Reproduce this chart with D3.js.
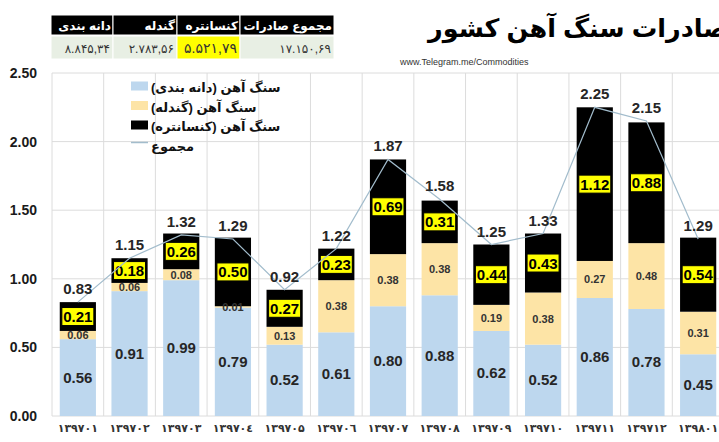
<!DOCTYPE html>
<html>
<head>
<meta charset="utf-8">
<script src="https://cdn.jsdelivr.net/npm/d3@7"></script>
<style>
  body { margin: 0; background: #fff; }
  svg { display: block; font-family: "Liberation Sans", "DejaVu Sans", sans-serif; }
</style>
</head>
<body>
<div id="chart"></div>
<script>
// Months (Persian calendar) and monthly exports per product
const months = ["۱۳۹۷۰۱", "۱۳۹۷۰۲", "۱۳۹۷۰۳", "۱۳۹۷۰٤", "۱۳۹۷۰۵", "۱۳۹۷۰٦", "۱۳۹۷۰۷",
                "۱۳۹۷۰۸", "۱۳۹۷۰۹", "۱۳۹۷۱۰", "۱۳۹۷۱۱", "۱۳۹۷۱۲", "۱۳۹۸۰۱"];
const daneBandi  = [0.56, 0.91, 0.99, 0.79, 0.52, 0.61, 0.80, 0.88, 0.62, 0.52, 0.86, 0.78, 0.45];
const gandaleh   = [0.06, 0.06, 0.08, 0.01, 0.13, 0.38, 0.38, 0.38, 0.19, 0.38, 0.27, 0.48, 0.31];
const konsantreh = [0.21, 0.18, 0.26, 0.50, 0.27, 0.23, 0.69, 0.31, 0.44, 0.43, 1.12, 0.88, 0.54];
const totals     = [0.83, 1.15, 1.32, 1.29, 0.92, 1.22, 1.87, 1.58, 1.25, 1.33, 2.25, 2.15, 1.29];
const yTicks = [0, 0.5, 1, 1.5, 2, 2.5];

const legendNames = ["سنگ آهن (دانه بندی)", "سنگ آهن (گندله)", "سنگ آهن (کنسانتره)", "مجموع"];
const tableHeaders = ["دانه بندی", "گندله", "کنسانتره", "مجموع صادرات"];
const tableValues = ["۸.۸۴۵,۳۴", "۲.۷۸۳,۵۶", "۵.۵۲۱,۷۹", "۱۷.۱۵۰,۶۹"];

const title = "صادرات سنگ آهن کشور";
const source = "www.Telegram.me/Commodities";

const width = 719, height = 442;
const plot = { left: 52, right: 724, top: 73, bottom: 416 };
const colors = { dane: "#bdd7ee", gandaleh: "#fde4a6", konsantreh: "#000000", line: "#a2bccc" };
const RLM = "\u200F";

const svg = d3.select("#chart")
    .append("svg")
    .attr("width", width)
    .attr("height", height);

const x = d3.scaleBand()
    .domain(months)
    .range([plot.left, plot.right])
    .paddingInner(0.3)
    .paddingOuter(0.15);

const y = d3.scaleLinear()
    .domain([0, 2.5])
    .range([plot.bottom, plot.top]);

// Gridlines
svg.selectAll(".hgrid")
    .data(yTicks)
    .enter()
    .append("line")
    .attr("x1", plot.left)
    .attr("x2", plot.right)
    .attr("y1", d => y(d))
    .attr("y2", d => y(d))
    .attr("stroke", "#dcdcdc");

svg.selectAll(".vgrid")
    .data(d3.range(months.length + 1))
    .enter()
    .append("line")
    .attr("x1", i => plot.left + i * x.step())
    .attr("x2", i => plot.left + i * x.step())
    .attr("y1", plot.top)
    .attr("y2", plot.bottom)
    .attr("stroke", "#dcdcdc");

// Y labels
svg.selectAll(".ylab")
    .data(yTicks)
    .enter()
    .append("text")
    .attr("x", 37)
    .attr("y", d => y(d) + 5)
    .attr("text-anchor", "end")
    .attr("font-size", 14)
    .attr("font-weight", "bold")
    .attr("fill", "#1a1a1a")
    .text(d => d3.format(".2f")(d));

// X labels
svg.selectAll(".xlab")
    .data(months)
    .enter()
    .append("text")
    .attr("x", d => x(d) + x.bandwidth() / 2)
    .attr("y", 432)
    .attr("text-anchor", "middle")
    .attr("font-size", 11)
    .attr("font-weight", "bold")
    .attr("fill", "#333")
    .text(d => d);

// Stacked bars
const rows = months.map((m, i) => ({ month: m, dane: daneBandi[i], gandaleh: gandaleh[i], konsantreh: konsantreh[i] }));
const keys = ["dane", "gandaleh", "konsantreh"];
const layers = d3.stack().keys(keys)(rows);

const layerG = svg.selectAll(".layer")
    .data(layers)
    .enter()
    .append("g")
    .attr("class", "layer")
    .attr("fill", d => colors[d.key]);

layerG.selectAll("rect")
    .data(d => d)
    .enter()
    .append("rect")
    .attr("x", d => x(d.data.month))
    .attr("width", x.bandwidth())
    .attr("y", d => y(d[1]))
    .attr("height", d => y(d[0]) - y(d[1]));

// Segment labels: blue
svg.selectAll(".lab-dane")
    .data(layers[0])
    .enter()
    .append("text")
    .attr("x", d => x(d.data.month) + x.bandwidth() / 2)
    .attr("y", d => (y(d[0]) + y(d[1])) / 2 + 5)
    .attr("text-anchor", "middle")
    .attr("font-size", 15)
    .attr("font-weight", "bold")
    .attr("fill", "#262626")
    .text(d => d3.format(".2f")(d.data.dane));

// Segment labels: yellow
svg.selectAll(".lab-gandaleh")
    .data(layers[1])
    .enter()
    .append("text")
    .attr("x", d => x(d.data.month) + x.bandwidth() / 2)
    .attr("y", d => (y(d[0]) + y(d[1])) / 2 + 4)
    .attr("text-anchor", "middle")
    .attr("font-size", 11)
    .attr("font-weight", "bold")
    .attr("fill", "#333")
    .text(d => d3.format(".2f")(d.data.gandaleh));

// Segment labels: black segment, yellow boxes
const konLabels = svg.selectAll(".lab-kon")
    .data(layers[2])
    .enter()
    .append("g")
    .attr("transform", d => `translate(${x(d.data.month) + x.bandwidth() / 2},${(y(d[0]) + y(d[1])) / 2})`);

konLabels.append("rect")
    .attr("x", -16)
    .attr("y", -9)
    .attr("width", 32)
    .attr("height", 18)
    .attr("fill", "#ffff00")
    .attr("stroke", "#000")
    .attr("stroke-width", 1);

konLabels.append("text")
    .attr("y", 5.5)
    .attr("text-anchor", "middle")
    .attr("font-size", 15)
    .attr("font-weight", "bold")
    .attr("fill", "#000")
    .text(d => d3.format(".2f")(d.data.konsantreh));

// Total line
const line = d3.line()
    .x((d, i) => x(months[i]) + x.bandwidth() / 2)
    .y(d => y(d));

svg.append("path")
    .datum(totals)
    .attr("d", line)
    .attr("fill", "none")
    .attr("stroke", colors.line)
    .attr("stroke-width", 1.2);

// Total labels
svg.selectAll(".lab-total")
    .data(totals)
    .enter()
    .append("text")
    .attr("x", (d, i) => x(months[i]) + x.bandwidth() / 2)
    .attr("y", d => y(d) - 8)
    .attr("text-anchor", "middle")
    .attr("font-size", 15)
    .attr("font-weight", "bold")
    .attr("fill", "#262626")
    .text(d => d3.format(".2f")(d));

// Legend
const legend = svg.selectAll(".legend")
    .data(legendNames)
    .enter()
    .append("g")
    .attr("class", "legend")
    .attr("transform", (d, i) => `translate(131,${86 + i * 19.5})`);

legend.filter((d, i) => i < 3)
    .append("rect")
    .attr("y", -4.5)
    .attr("width", 17)
    .attr("height", 9)
    .attr("fill", (d, i) => colors[keys[i]]);

legend.filter((d, i) => i === 3)
    .append("line")
    .attr("x2", 17)
    .attr("y1", -2)
    .attr("y2", -2)
    .attr("stroke", colors.line)
    .attr("stroke-width", 1.5);

legend.append("text")
    .attr("x", 20)
    .attr("y", 6)
    .attr("font-size", 13)
    .attr("font-weight", "bold")
    .attr("fill", "#111")
    .text(d => d + RLM);

// Title and source (the original is clipped a little at the right edge)
svg.append("text")
    .attr("x", 728)
    .attr("y", 37)
    .attr("text-anchor", "end")
    .attr("font-size", 25.5)
    .attr("font-weight", "bold")
    .attr("fill", "#000")
    .text(title);

svg.append("text")
    .attr("x", 400)
    .attr("y", 65)
    .attr("font-size", 9)
    .attr("fill", "#333")
    .text(source);

// Summary table
const cols = [51, 113, 177, 240, 334];
const table = svg.append("g");

table.selectAll(".th")
    .data(tableHeaders)
    .enter()
    .append("rect")
    .attr("x", (d, i) => cols[i])
    .attr("y", 15)
    .attr("width", (d, i) => cols[i + 1] - cols[i])
    .attr("height", 20)
    .attr("fill", "#000")
    .attr("stroke", "#fff")
    .attr("stroke-width", 1);

table.selectAll(".th-text")
    .data(tableHeaders)
    .enter()
    .append("text")
    .attr("x", (d, i) => cols[i + 1] - 2)
    .attr("y", 30)
    .attr("text-anchor", "end")
    .attr("font-size", 12)
    .attr("font-weight", "bold")
    .attr("fill", "#fff")
    .text(d => d);

table.selectAll(".td")
    .data(tableValues)
    .enter()
    .append("rect")
    .attr("x", (d, i) => cols[i])
    .attr("y", 36)
    .attr("width", (d, i) => cols[i + 1] - cols[i])
    .attr("height", 23)
    .attr("fill", (d, i) => i === 2 ? "#ffff00" : "#e8efe4")
    .attr("stroke", "#fff")
    .attr("stroke-width", 1);

table.selectAll(".td-text")
    .data(tableValues)
    .enter()
    .append("text")
    .attr("x", (d, i) => cols[i + 1] - 3)
    .attr("y", 53)
    .attr("text-anchor", "end")
    .attr("font-size", (d, i) => i === 2 ? 14 : 12)
    .attr("fill", "#333")
    .text(d => d);
</script>
</body>
</html>
